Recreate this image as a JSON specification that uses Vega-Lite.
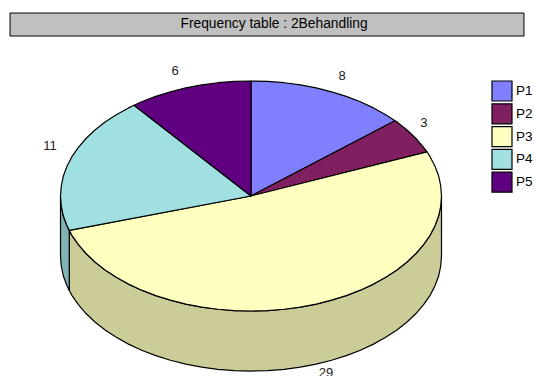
{
  "$schema": "https://vega.github.io/schema/vega-lite/v6.json",
  "width": 534,
  "height": 376,
  "autosize": {"type": "none"},
  "padding": 0,
  "background": "white",
  "view": {"stroke": null},
  "config": {"font": "Liberation Sans"},
  "datasets": {
    "banner": [{"text": "Frequency table : 2Behandling", "x": -1.265, "x2": 1.433, "y": 1.591, "y2": 1.391, "tx": 0.121, "ty": 1.496}],
    "counts": [
      {"slice": "P1", "count": 8, "lx": 0.478, "ly": 1.043},
      {"slice": "P2", "count": 3, "lx": 0.908, "ly": 0.635},
      {"slice": "P3", "count": 29, "lx": 0.394, "ly": -1.539},
      {"slice": "P4", "count": 11, "lx": -1.055, "ly": 0.435},
      {"slice": "P5", "count": 6, "lx": -0.399, "ly": 1.087}
    ],
    "rim": [
      {"slice": "P3", "x": 1, "y": 0, "yb": -0.522},
      {"slice": "P3", "x": 0.996, "y": -0.087, "yb": -0.609},
      {"slice": "P3", "x": 0.985, "y": -0.174, "yb": -0.696},
      {"slice": "P3", "x": 0.966, "y": -0.259, "yb": -0.781},
      {"slice": "P3", "x": 0.94, "y": -0.342, "yb": -0.864},
      {"slice": "P3", "x": 0.906, "y": -0.423, "yb": -0.945},
      {"slice": "P3", "x": 0.866, "y": -0.5, "yb": -1.022},
      {"slice": "P3", "x": 0.819, "y": -0.574, "yb": -1.096},
      {"slice": "P3", "x": 0.766, "y": -0.643, "yb": -1.165},
      {"slice": "P3", "x": 0.707, "y": -0.707, "yb": -1.229},
      {"slice": "P3", "x": 0.643, "y": -0.766, "yb": -1.288},
      {"slice": "P3", "x": 0.574, "y": -0.819, "yb": -1.341},
      {"slice": "P3", "x": 0.5, "y": -0.866, "yb": -1.388},
      {"slice": "P3", "x": 0.423, "y": -0.906, "yb": -1.428},
      {"slice": "P3", "x": 0.342, "y": -0.94, "yb": -1.462},
      {"slice": "P3", "x": 0.259, "y": -0.966, "yb": -1.488},
      {"slice": "P3", "x": 0.174, "y": -0.985, "yb": -1.507},
      {"slice": "P3", "x": 0.087, "y": -0.996, "yb": -1.518},
      {"slice": "P3", "x": 0, "y": -1, "yb": -1.522},
      {"slice": "P3", "x": -0.087, "y": -0.996, "yb": -1.518},
      {"slice": "P3", "x": -0.174, "y": -0.985, "yb": -1.507},
      {"slice": "P3", "x": -0.259, "y": -0.966, "yb": -1.488},
      {"slice": "P3", "x": -0.342, "y": -0.94, "yb": -1.462},
      {"slice": "P3", "x": -0.423, "y": -0.906, "yb": -1.428},
      {"slice": "P3", "x": -0.5, "y": -0.866, "yb": -1.388},
      {"slice": "P3", "x": -0.574, "y": -0.819, "yb": -1.341},
      {"slice": "P3", "x": -0.643, "y": -0.766, "yb": -1.288},
      {"slice": "P3", "x": -0.707, "y": -0.707, "yb": -1.229},
      {"slice": "P3", "x": -0.766, "y": -0.643, "yb": -1.165},
      {"slice": "P3", "x": -0.819, "y": -0.574, "yb": -1.096},
      {"slice": "P3", "x": -0.866, "y": -0.5, "yb": -1.022},
      {"slice": "P3", "x": -0.906, "y": -0.423, "yb": -0.945},
      {"slice": "P3", "x": -0.94, "y": -0.342, "yb": -0.864},
      {"slice": "P3", "x": -0.954, "y": -0.299, "yb": -0.821},
      {"slice": "P4", "x": -0.954, "y": -0.299, "yb": -0.821},
      {"slice": "P4", "x": -0.966, "y": -0.259, "yb": -0.781},
      {"slice": "P4", "x": -0.985, "y": -0.174, "yb": -0.696},
      {"slice": "P4", "x": -0.996, "y": -0.087, "yb": -0.609},
      {"slice": "P4", "x": -1, "y": 0, "yb": -0.522}
    ],
    "faces": [
      {"slice": "P1", "i": 0, "x": 0, "y": 0},
      {"slice": "P1", "i": 1, "x": 0, "y": 1},
      {"slice": "P1", "i": 2, "x": 0.087, "y": 0.996},
      {"slice": "P1", "i": 3, "x": 0.174, "y": 0.985},
      {"slice": "P1", "i": 4, "x": 0.259, "y": 0.966},
      {"slice": "P1", "i": 5, "x": 0.342, "y": 0.94},
      {"slice": "P1", "i": 6, "x": 0.423, "y": 0.906},
      {"slice": "P1", "i": 7, "x": 0.5, "y": 0.866},
      {"slice": "P1", "i": 8, "x": 0.574, "y": 0.819},
      {"slice": "P1", "i": 9, "x": 0.643, "y": 0.766},
      {"slice": "P1", "i": 10, "x": 0.707, "y": 0.707},
      {"slice": "P1", "i": 11, "x": 0.756, "y": 0.655},

      {"slice": "P2", "i": 0, "x": 0, "y": 0},
      {"slice": "P2", "i": 1, "x": 0.756, "y": 0.655},
      {"slice": "P2", "i": 2, "x": 0.766, "y": 0.643},
      {"slice": "P2", "i": 3, "x": 0.819, "y": 0.574},
      {"slice": "P2", "i": 4, "x": 0.866, "y": 0.5},
      {"slice": "P2", "i": 5, "x": 0.906, "y": 0.423},
      {"slice": "P2", "i": 6, "x": 0.924, "y": 0.383},

      {"slice": "P3", "i": 0, "x": 0, "y": 0},
      {"slice": "P3", "i": 1, "x": 0.924, "y": 0.383},
      {"slice": "P3", "i": 2, "x": 0.94, "y": 0.342},
      {"slice": "P3", "i": 3, "x": 0.966, "y": 0.259},
      {"slice": "P3", "i": 4, "x": 0.985, "y": 0.174},
      {"slice": "P3", "i": 5, "x": 0.996, "y": 0.087},
      {"slice": "P3", "i": 6, "x": 1, "y": 0},
      {"slice": "P3", "i": 7, "x": 0.996, "y": -0.087},
      {"slice": "P3", "i": 8, "x": 0.985, "y": -0.174},
      {"slice": "P3", "i": 9, "x": 0.966, "y": -0.259},
      {"slice": "P3", "i": 10, "x": 0.94, "y": -0.342},
      {"slice": "P3", "i": 11, "x": 0.906, "y": -0.423},
      {"slice": "P3", "i": 12, "x": 0.866, "y": -0.5},
      {"slice": "P3", "i": 13, "x": 0.819, "y": -0.574},
      {"slice": "P3", "i": 14, "x": 0.766, "y": -0.643},
      {"slice": "P3", "i": 15, "x": 0.707, "y": -0.707},
      {"slice": "P3", "i": 16, "x": 0.643, "y": -0.766},
      {"slice": "P3", "i": 17, "x": 0.574, "y": -0.819},
      {"slice": "P3", "i": 18, "x": 0.5, "y": -0.866},
      {"slice": "P3", "i": 19, "x": 0.423, "y": -0.906},
      {"slice": "P3", "i": 20, "x": 0.342, "y": -0.94},
      {"slice": "P3", "i": 21, "x": 0.259, "y": -0.966},
      {"slice": "P3", "i": 22, "x": 0.174, "y": -0.985},
      {"slice": "P3", "i": 23, "x": 0.087, "y": -0.996},
      {"slice": "P3", "i": 24, "x": 0, "y": -1},
      {"slice": "P3", "i": 25, "x": -0.087, "y": -0.996},
      {"slice": "P3", "i": 26, "x": -0.174, "y": -0.985},
      {"slice": "P3", "i": 27, "x": -0.259, "y": -0.966},
      {"slice": "P3", "i": 28, "x": -0.342, "y": -0.94},
      {"slice": "P3", "i": 29, "x": -0.423, "y": -0.906},
      {"slice": "P3", "i": 30, "x": -0.5, "y": -0.866},
      {"slice": "P3", "i": 31, "x": -0.574, "y": -0.819},
      {"slice": "P3", "i": 32, "x": -0.643, "y": -0.766},
      {"slice": "P3", "i": 33, "x": -0.707, "y": -0.707},
      {"slice": "P3", "i": 34, "x": -0.766, "y": -0.643},
      {"slice": "P3", "i": 35, "x": -0.819, "y": -0.574},
      {"slice": "P3", "i": 36, "x": -0.866, "y": -0.5},
      {"slice": "P3", "i": 37, "x": -0.906, "y": -0.423},
      {"slice": "P3", "i": 38, "x": -0.94, "y": -0.342},
      {"slice": "P3", "i": 39, "x": -0.954, "y": -0.299},

      {"slice": "P4", "i": 0, "x": 0, "y": 0},
      {"slice": "P4", "i": 1, "x": -0.954, "y": -0.299},
      {"slice": "P4", "i": 2, "x": -0.966, "y": -0.259},
      {"slice": "P4", "i": 3, "x": -0.985, "y": -0.174},
      {"slice": "P4", "i": 4, "x": -0.996, "y": -0.087},
      {"slice": "P4", "i": 5, "x": -1, "y": 0},
      {"slice": "P4", "i": 6, "x": -0.996, "y": 0.087},
      {"slice": "P4", "i": 7, "x": -0.985, "y": 0.174},
      {"slice": "P4", "i": 8, "x": -0.966, "y": 0.259},
      {"slice": "P4", "i": 9, "x": -0.94, "y": 0.342},
      {"slice": "P4", "i": 10, "x": -0.906, "y": 0.423},
      {"slice": "P4", "i": 11, "x": -0.866, "y": 0.5},
      {"slice": "P4", "i": 12, "x": -0.819, "y": 0.574},
      {"slice": "P4", "i": 13, "x": -0.766, "y": 0.643},
      {"slice": "P4", "i": 14, "x": -0.707, "y": 0.707},
      {"slice": "P4", "i": 15, "x": -0.643, "y": 0.766},
      {"slice": "P4", "i": 16, "x": -0.614, "y": 0.789},

      {"slice": "P5", "i": 0, "x": 0, "y": 0},
      {"slice": "P5", "i": 1, "x": -0.614, "y": 0.789},
      {"slice": "P5", "i": 2, "x": -0.574, "y": 0.819},
      {"slice": "P5", "i": 3, "x": -0.5, "y": 0.866},
      {"slice": "P5", "i": 4, "x": -0.423, "y": 0.906},
      {"slice": "P5", "i": 5, "x": -0.342, "y": 0.94},
      {"slice": "P5", "i": 6, "x": -0.259, "y": 0.966},
      {"slice": "P5", "i": 7, "x": -0.174, "y": 0.985},
      {"slice": "P5", "i": 8, "x": -0.087, "y": 0.996},
      {"slice": "P5", "i": 9, "x": 0, "y": 1}
    ]
  },
  "layer": [
    {
      "data": {"name": "banner"},
      "mark": {"type": "rect", "fill": "#C0C0C0", "stroke": "black", "strokeWidth": 1},
      "encoding": {
        "x": {"field": "x", "type": "quantitative", "axis": null, "scale": {"domain": [-1.3176, 1.4856], "nice": false, "zero": false}},
        "x2": {"field": "x2"},
        "y": {"field": "y", "type": "quantitative", "axis": null, "scale": {"domain": [-1.5652, 1.7043], "nice": false, "zero": false}},
        "y2": {"field": "y2"}
      }
    },
    {
      "data": {"name": "banner"},
      "mark": {"type": "text", "fontSize": 13.8, "color": "black", "align": "center", "baseline": "middle"},
      "encoding": {
        "x": {"field": "tx", "type": "quantitative"},
        "y": {"field": "ty", "type": "quantitative", "axis": null, "scale": {"domain": [-1.5652, 1.7043], "nice": false, "zero": false}},
        "text": {"field": "text"}
      }
    },
    {
      "data": {"name": "rim"},
      "mark": {"type": "area", "stroke": "black", "strokeWidth": 1.2, "opacity": 1},
      "encoding": {
        "x": {"field": "x", "type": "quantitative"},
        "y": {"field": "y", "type": "quantitative", "axis": null, "scale": {"domain": [-1.5652, 1.7043], "nice": false, "zero": false}},
        "y2": {"field": "yb"},
        "fill": {"field": "slice", "type": "nominal", "legend": null, "scale": {"domain": ["P3", "P4"], "range": ["#CCCC99", "#80B3B3"]}}
      }
    },
    {
      "data": {"name": "faces"},
      "mark": {"type": "line", "interpolate": "linear-closed", "stroke": "black", "strokeWidth": 1.2, "strokeJoin": "round"},
      "encoding": {
        "x": {"field": "x", "type": "quantitative"},
        "y": {"field": "y", "type": "quantitative", "axis": null, "scale": {"domain": [-1.5652, 1.7043], "nice": false, "zero": false}},
        "order": {"field": "i", "type": "quantitative"},
        "fill": {
          "field": "slice",
          "type": "nominal",
          "legend": null,
          "scale": {"domain": ["P1", "P2", "P3", "P4", "P5"], "range": ["#8080FF", "#802060", "#FFFFC0", "#A0E0E0", "#600080"]}
        }
      }
    },
    {
      "data": {"name": "counts"},
      "mark": {"type": "text", "fontSize": 13, "color": "#222222", "align": "center", "baseline": "middle"},
      "encoding": {
        "x": {"field": "lx", "type": "quantitative"},
        "y": {"field": "ly", "type": "quantitative", "axis": null, "scale": {"domain": [-1.5652, 1.7043], "nice": false, "zero": false}},
        "text": {"field": "count", "type": "quantitative"}
      }
    },
    {
      "data": {"name": "counts"},
      "mark": {"type": "point", "shape": "square", "filled": true, "size": 400, "stroke": "black", "strokeWidth": 1.2, "opacity": 1},
      "encoding": {
        "x": {"datum": 1.3176},
        "y": {"field": "slice", "type": "nominal", "axis": null, "scale": {"type": "point", "domain": ["P1", "P2", "P3", "P4", "P5"], "range": [91, 182.2], "padding": 0}},
        "fill": {
          "field": "slice",
          "type": "nominal",
          "legend": null,
          "scale": {"domain": ["P1", "P2", "P3", "P4", "P5"], "range": ["#8080FF", "#802060", "#FFFFC0", "#A0E0E0", "#600080"]}
        }
      }
    },
    {
      "data": {"name": "counts"},
      "mark": {"type": "text", "fontSize": 13.5, "color": "black", "align": "left", "baseline": "middle"},
      "encoding": {
        "x": {"datum": 1.391},
        "y": {"field": "slice", "type": "nominal", "axis": null, "scale": {"type": "point", "domain": ["P1", "P2", "P3", "P4", "P5"], "range": [91, 182.2], "padding": 0}},
        "text": {"field": "slice"}
      }
    }
  ],
  "resolve": {"scale": {"fill": "independent", "y": "independent"}}
}
